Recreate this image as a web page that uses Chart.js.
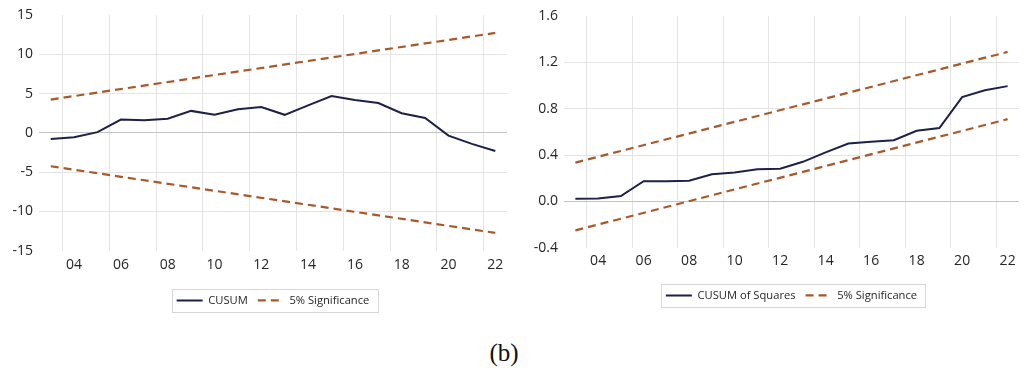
<!DOCTYPE html>
<html>
<head>
<meta charset="utf-8">
<script src="https://cdn.jsdelivr.net/npm/chart.js@4.4.1/dist/chart.umd.min.js"></script>
<style>
  html, body { margin: 0; padding: 0; background: #ffffff; }
  #page { position: relative; width: 1029px; height: 378px; overflow: hidden; }
  .panel { position: absolute; top: 0; }
  #caption {
    position: absolute; left: 454px; top: 338px; width: 100px;
    text-align: center; font-family: "Liberation Serif", "DejaVu Serif", serif;
    font-size: 25px; line-height: 30px; color: #111;
  }
</style>
</head>
<body>
<div id="page">
  <div class="panel" style="left:0px"><canvas id="cusum" width="515" height="316"></canvas></div>
  <div class="panel" style="left:515px"><canvas id="cusumsq" width="514" height="311"></canvas></div>
  <div id="caption">(b)</div>
</div>
<script>
// sample years, 2003..2022
const years = ['03', '04', '05', '06', '07', '08', '09', '10', '11', '12',
               '13', '14', '15', '16', '17', '18', '19', '20', '21', '22'];

// recursive residual CUSUM
const cusum = [-0.77, -0.55, 0.1, 1.7, 1.6, 1.8, 2.8, 2.3, 3.0, 3.3,
               2.3, 3.5, 4.7, 4.2, 3.8, 2.5, 1.9, -0.35, -1.4, -2.3];
// 5% bounds are straight lines: only the end values are given
const cusumUpper = [4.24, null, null, null, null, null, null, null, null, null,
                    null, null, null, null, null, null, null, null, null, 12.72];
const cusumLower = [-4.24, null, null, null, null, null, null, null, null, null,
                    null, null, null, null, null, null, null, null, null, -12.72];

// CUSUM of squares
const cusumSq = [0.023, 0.025, 0.047, 0.175, 0.175, 0.178, 0.234, 0.25, 0.277, 0.283,
                 0.342, 0.423, 0.5, 0.514, 0.528, 0.61, 0.633, 0.9, 0.96, 0.995];
const sqUpper = [0.335, null, null, null, null, null, null, null, null, null,
                 null, null, null, null, null, null, null, null, null, 1.29];
const sqLower = [-0.25, null, null, null, null, null, null, null, null, null,
                 null, null, null, null, null, null, null, null, null, 0.71];

const cusumTicks = { min: -15, max: 15, step: 5 };
const sqTicks = { min: -0.4, max: 1.6, step: 0.4 };

const NAVY = '#1b2149';
const BROWN = '#a9582a';
const GRID = '#e4e4e4';
const ZERO = '#c4c4c4';
const TEXT = '#262626';
const FONT = '"Open Sans", "Noto Sans", sans-serif';

// thin grey frame around the legend items
const legendFrame = {
  id: 'legendFrame',
  afterDraw(chart) {
    const boxes = chart.legend && chart.legend.legendHitBoxes;
    if (!boxes || !boxes.length) return;
    const first = boxes[0], last = boxes[boxes.length - 1];
    const cy = first.top + first.height / 2;
    const ctx = chart.ctx;
    ctx.save();
    ctx.strokeStyle = '#d6d6d6';
    ctx.lineWidth = 1;
    ctx.strokeRect(Math.round(first.left - 5) + 0.5, Math.round(cy - 11.7) + 0.5,
                   Math.round(last.left + last.width + 8 - (first.left - 5)), 23);
    ctx.restore();
  }
};

// legend samples take dash and width from the dataset line, not its points
function lineLabels(chart) {
  const items = Chart.defaults.plugins.legend.labels.generateLabels(chart);
  return items
    .filter(item => item.datasetIndex < 2)
    .map(item => {
      const ds = chart.data.datasets[item.datasetIndex];
      item.lineDash = ds.borderDash;
      item.lineWidth = ds.borderWidth;
      item.strokeStyle = ds.borderColor;
      return item;
    });
}

function makeChart(id, cfg) {
  const line = (label, data, color, dash, width) => ({
    label, data, borderColor: color, backgroundColor: color,
    borderWidth: width, borderDash: dash, pointRadius: 0, tension: 0,
    spanGaps: true, fill: false
  });

  return new Chart(document.getElementById(id), {
    type: 'line',
    data: {
      labels: years,
      datasets: [
        line(cfg.name, cfg.values, NAVY, [], 2),
        line('5% Significance', cfg.upper, BROWN, [8, 5], 2.2),
        line('5% Significance (lower)', cfg.lower, BROWN, [8, 5], 2.2)
      ]
    },
    options: {
      responsive: false,
      animation: false,
      devicePixelRatio: 1,
      layout: { padding: cfg.padding },
      plugins: {
        tooltip: { enabled: false },
        legend: {
          position: 'bottom',
          fullSize: false,
          labels: {
            generateLabels: lineLabels,
            usePointStyle: true,
            pointStyle: 'line',
            pointStyleWidth: 26,
            padding: 10,
            color: TEXT,
            font: { family: FONT, size: 11.2 }
          }
        }
      },
      scales: {
        x: {
          offset: true,
          border: { display: false },
          grid: {
            offset: true,
            drawTicks: false,
            lineWidth: 1,
            color: c => (c.index % 2 === 1 ? GRID : 'rgba(0,0,0,0)')
          },
          ticks: {
            autoSkip: false,
            maxRotation: 0,
            padding: cfg.xPad,
            color: TEXT,
            font: { family: FONT, size: 14 },
            callback: (v, i) => (i % 2 === 1 ? years[i] : '')
          },
          afterFit: s => { s.height = cfg.xHeight; }
        },
        y: {
          min: cfg.ticks.min,
          max: cfg.ticks.max,
          border: { display: false },
          grid: {
            drawTicks: false,
            lineWidth: 1,
            color: c => {
              const v = c.tick.value;
              if (Math.abs(v) < 1e-9) return ZERO;
              if (Math.abs(v - cfg.ticks.min) < 1e-9 || Math.abs(v - cfg.ticks.max) < 1e-9) return 'rgba(0,0,0,0)';
              return GRID;
            }
          },
          ticks: {
            stepSize: cfg.ticks.step,
            padding: 6,
            color: TEXT,
            font: { family: FONT, size: 14 },
            callback: cfg.fmt
          },
          afterFit: s => { s.width = cfg.yWidth; }
        }
      }
    },
    plugins: [legendFrame]
  });
}

makeChart('cusum', {
  name: 'CUSUM', values: cusum, upper: cusumUpper, lower: cusumLower,
  ticks: cusumTicks, fmt: v => String(Math.round(v)),
  padding: { top: 15, right: 8, left: 0, bottom: 0 },
  yWidth: 39, xHeight: 34, xPad: 6
});

makeChart('cusumsq', {
  name: 'CUSUM of Squares', values: cusumSq, upper: sqUpper, lower: sqLower,
  ticks: sqTicks, fmt: v => (Math.abs(v) < 1e-9 ? 0 : v).toFixed(1),
  padding: { top: 16, right: 10, left: 0, bottom: 0 },
  yWidth: 49, xHeight: 32, xPad: 5
});
</script>
</body>
</html>
